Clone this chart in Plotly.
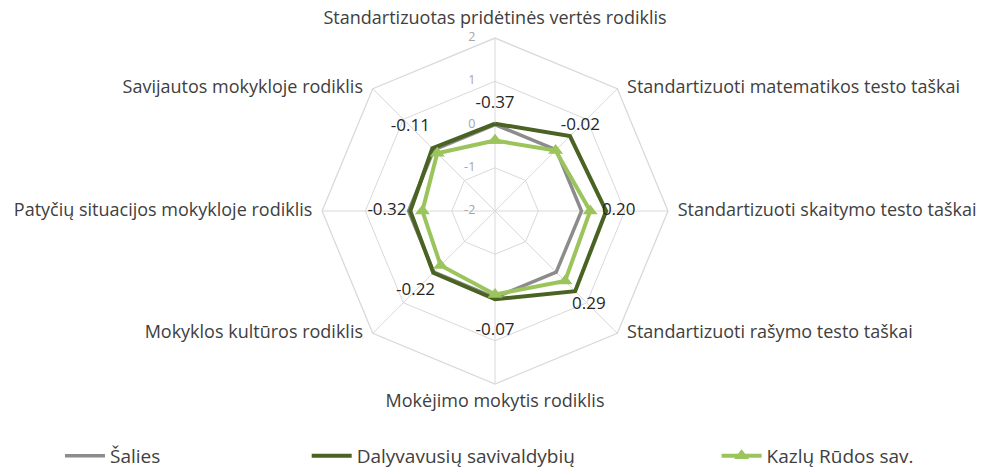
import plotly.graph_objects as go

# rodikliai (kryptimi pagal laikrodžio rodyklę nuo viršaus)
categories = [
    'Standartizuotas pridėtinės vertės rodiklis',
    'Standartizuoti matematikos testo taškai',
    'Standartizuoti skaitymo testo taškai',
    'Standartizuoti rašymo testo taškai',
    'Mokėjimo mokytis rodiklis',
    'Mokyklos kultūros rodiklis',
    'Patyčių situacijos mokykloje rodiklis',
    'Savijautos mokykloje rodiklis',
]

salies = [0, 0, 0, 0, 0, 0, 0, 0]
dalyvavusiu = [0.02, 0.45, 0.57, 0.62, 0.04, 0.02, -0.04, 0.05]
kazlu_rudos = [-0.37, -0.02, 0.20, 0.29, -0.07, -0.22, -0.32, -0.11]
value_labels = ['-0.37', '-0.02', '0.20', '0.29', '-0.07', '-0.22', '-0.32', '-0.11']

# where the value labels sit (in axis units)
label_r = [0.47, 0.79, 0.86, 1.07, 0.77, 0.6, 0.5, 0.77]

radial_ticks = [-2, -1, 0, 1, 2]
R_MIN, R_MAX = -2, 2  # plotly polar drops markers with a negative radial range, so shift the axis

FONT = 'Open Sans'
TXT = '#404040'
GRID = '#d9d9d9'
DOMAIN = dict(x=[0.3276, 0.6796], y=[0.183, 0.919])

def to_r(v):
    return [x - R_MIN for x in v]

def closed(v):
    return list(v) + [v[0]]

theta = closed(categories)

# excel-like placement of the category names around the octagon
cat_pos = ['top center', 'middle right', 'middle right', 'middle right',
           'bottom center', 'middle left', 'middle left', 'middle left']

fig = go.Figure()
fig.add_trace(go.Scatterpolar(
    r=to_r(closed(salies)), theta=theta, mode='lines', name='Šalies',
    line=dict(color='#8c8c8c', width=3.5), legend='legend'))
fig.add_trace(go.Scatterpolar(
    r=to_r(closed(dalyvavusiu)), theta=theta, mode='lines', name='Dalyvavusių savivaldybių',
    line=dict(color='#4a6323', width=4), legend='legend2'))
fig.add_trace(go.Scatterpolar(
    r=to_r(closed(kazlu_rudos)), theta=theta, mode='lines+markers', name='Kazlų Rūdos sav.',
    line=dict(color='#9bc45c', width=4),
    marker=dict(symbol='triangle-up', size=13, color='#9bc45c'), legend='legend3'))
# value labels
fig.add_trace(go.Scatterpolar(
    r=to_r(label_r), theta=categories, mode='text', text=value_labels,
    textfont=dict(family=FONT, size=17, color='#262626'), showlegend=False,
    hoverinfo='skip'))
# category names
fig.add_trace(go.Scatterpolar(
    r=to_r([R_MAX] * len(categories)), theta=categories,
    mode='markers+text', text=categories, textposition=cat_pos,
    marker=dict(size=14, opacity=0), cliponaxis=False,
    textfont=dict(family=FONT, size=18, color=TXT), showlegend=False,
    hoverinfo='skip'))
# radial tick labels (left of the top spoke); on a hidden circular overlay so the centre one shows
fig.add_trace(go.Scatterpolar(
    r=to_r(radial_ticks), theta=[categories[0]] * len(radial_ticks), subplot='polar2',
    mode='markers+text', text=[str(t) for t in radial_ticks], textposition='middle left',
    marker=dict(size=30, opacity=0), cliponaxis=False,
    textfont=dict(family=FONT, size=12.5, color='#a6a6a6'), showlegend=False,
    hoverinfo='skip'))

legend_common = dict(orientation='h', yanchor='middle', y=0.03, xanchor='left',
                     font=dict(family=FONT, size=19, color=TXT),
                     bgcolor='rgba(0,0,0,0)', itemwidth=40)

hidden_axis = dict(showgrid=False, showline=False, ticks='', showticklabels=False)

fig.update_layout(
    width=983, height=470,
    margin=dict(l=0, r=0, t=0, b=0, autoexpand=False),
    paper_bgcolor='white',
    font=dict(family=FONT, color=TXT),
    polar=dict(
        domain=DOMAIN,
        gridshape='linear',
        bgcolor='white',
        angularaxis=dict(
            direction='clockwise', rotation=90,
            linecolor=GRID, linewidth=1.3,
            gridcolor=GRID, gridwidth=1.3,
            ticks='', showticklabels=False,
        ),
        radialaxis=dict(
            range=to_r([R_MIN, R_MAX]), tickvals=to_r(radial_ticks),
            angle=90, showline=False, ticks='', showticklabels=False,
            gridcolor=GRID, gridwidth=1.3,
        ),
    ),
    polar2=dict(
        domain=DOMAIN,
        bgcolor='rgba(0,0,0,0)',
        angularaxis=dict(hidden_axis, direction='clockwise', rotation=90,
                         categoryarray=categories, type='category'),
        radialaxis=dict(hidden_axis, range=to_r([R_MIN, R_MAX])),
    ),
    legend=dict(legend_common, x=0.061),
    legend2=dict(legend_common, x=0.312),
    legend3=dict(legend_common, x=0.729),
)

fig.write_html('out.html', post_script="document.body.style.margin='0';",
               config={'displayModeBar': False})
